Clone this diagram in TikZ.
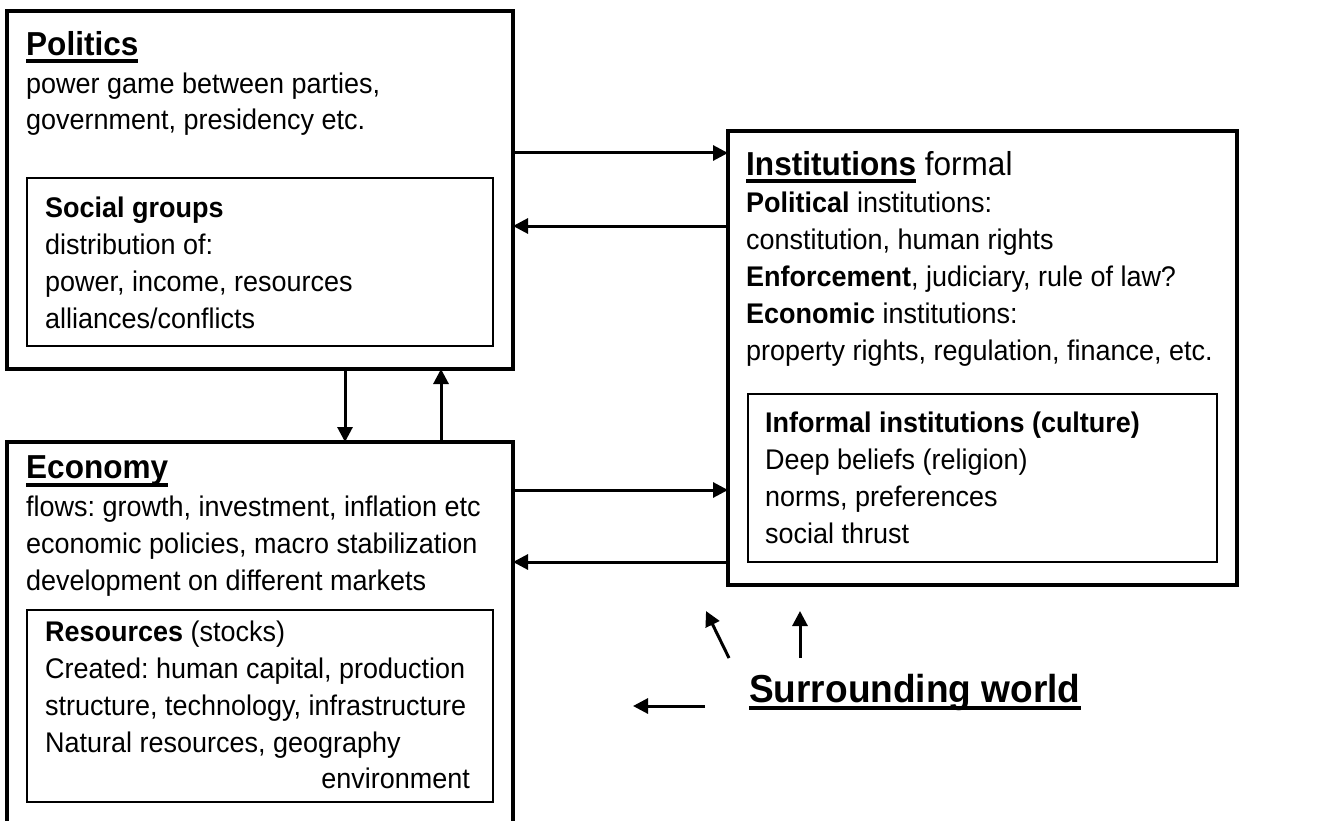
\documentclass[tikz,border=0pt]{standalone}
\usepackage{fontspec}
\setmainfont[FakeStretch=0.95]{Liberation Sans}
\usetikzlibrary{arrows.meta,positioning}
\frenchspacing

\newsavebox{\ulbox}
\newcommand{\titleul}[1]{\sbox{\ulbox}{#1}\rlap{\rule[-8pt]{\wd\ulbox}{4pt}}\usebox{\ulbox}}
\newcommand{\titlefont}{\fontsize{33.2}{38}\selectfont}

\begin{document}
\begin{tikzpicture}[x=1pt, y=-1pt,
    outerbox/.style={draw, line width=4pt, inner sep=0pt, outer sep=0pt, anchor=north west},
    innerbox/.style={draw, line width=1.5pt, inner sep=0pt, outer sep=0pt, anchor=north west},
    boxtext/.style={font=\fontsize{28.4}{36.8}\selectfont, align=left, inner sep=0pt, anchor=base west},
    flow/.style={line width=3pt, -{Triangle[length=15pt, width=15pt]}}]

    % Fix the page and cut off the open bottom of the economy box
    \useasboundingbox (0,0) rectangle (1335,821);
    \clip (0,0) rectangle (1335,821);

    % Draw the boxes
    \node[outerbox, minimum width=506pt, minimum height=358pt] (politics) at (7,11) {};
    \node[innerbox, minimum width=466pt, minimum height=168pt] (social) at (27,178) {};
    \node[outerbox, minimum width=509pt, minimum height=454pt] (institutions) at (728,131) {};
    \node[innerbox, minimum width=469pt, minimum height=168pt] (informal) at (748,394) {};
    \node[outerbox, minimum width=506pt, minimum height=420pt] (economy) at (7,442) {};
    \node[innerbox, minimum width=466pt, minimum height=192pt] (resources) at (27,610) {};

    % Texts of the boxes (placed at the baseline of their last line)
    \node[boxtext] (politicstext) at (26,130)
        {{\titlefont\titleul{\bfseries Politics}}\\[1pt]
         power game between parties,\\
         government, presidency etc.};
    \node[boxtext] (socialtext) at (45,328)
        {\textbf{Social groups}\\
         distribution of:\\
         power, income, resources\\
         alliances/conflicts};
    \node[boxtext] (institutionstext) at (746,360)
        {{\titlefont\titleul{\bfseries Institutions} formal}\\[1pt]
         \textbf{Political} institutions:\\
         constitution, human rights\\
         \textbf{Enforcement}, judiciary, rule of law?\\
         \textbf{Economic} institutions:\\
         property rights, regulation, finance, etc.};
    \node[boxtext] (informaltext) at (765,543)
        {\textbf{Informal institutions (culture)}\\
         Deep beliefs (religion)\\
         norms, preferences\\
         social thrust};
    \node[boxtext] (economytext) at (26,590)
        {{\titlefont\titleul{\bfseries Economy}}\\[1pt]
         flows: growth, investment, inflation etc\\
         economic policies, macro stabilization\\
         development on different markets};
    \node[boxtext] (resourcestext) at (45,752)
        {\textbf{Resources} (stocks)\\
         Created: human capital, production\\
         structure, technology, infrastructure\\
         Natural resources, geography};
    \node[boxtext, anchor=base east] (resourcesenv) at (470,788) {environment};

    % The surrounding world
    \node[inner sep=0pt, anchor=base west, font=\fontsize{39}{44}\selectfont\bfseries]
        (world) at (749,702) {\titleul{Surrounding world}};
    \coordinate (toinst) at (706,611);
    \coordinate (toinstup) at (800,611);
    \coordinate (toecon) at (633,706);

    % Arrows between the boxes
    \draw[flow] (politics.east |- 0,153) -- (institutions.west |- 0,153);
    \draw[flow] (institutions.west |- 0,226) -- (politics.east |- 0,226);
    \draw[flow] (politics.south -| 345,0) -- (economy.north -| 345,0);
    \draw[flow] (economy.north -| 441,0) -- (politics.south -| 441,0);
    \draw[flow] (economy.east |- 0,490) -- (institutions.west |- 0,490);
    \draw[flow] (institutions.west |- 0,562) -- (economy.east |- 0,562);

    % Arrows from the surrounding world
    \draw[flow] ([shift={(-20,-44)}]world.base west) -- (toinst);
    \draw[flow] (toinstup |- 0,658) -- (toinstup);
    \draw[flow] ([shift={(-44,4)}]world.base west) -- (toecon);
\end{tikzpicture}
\end{document}
